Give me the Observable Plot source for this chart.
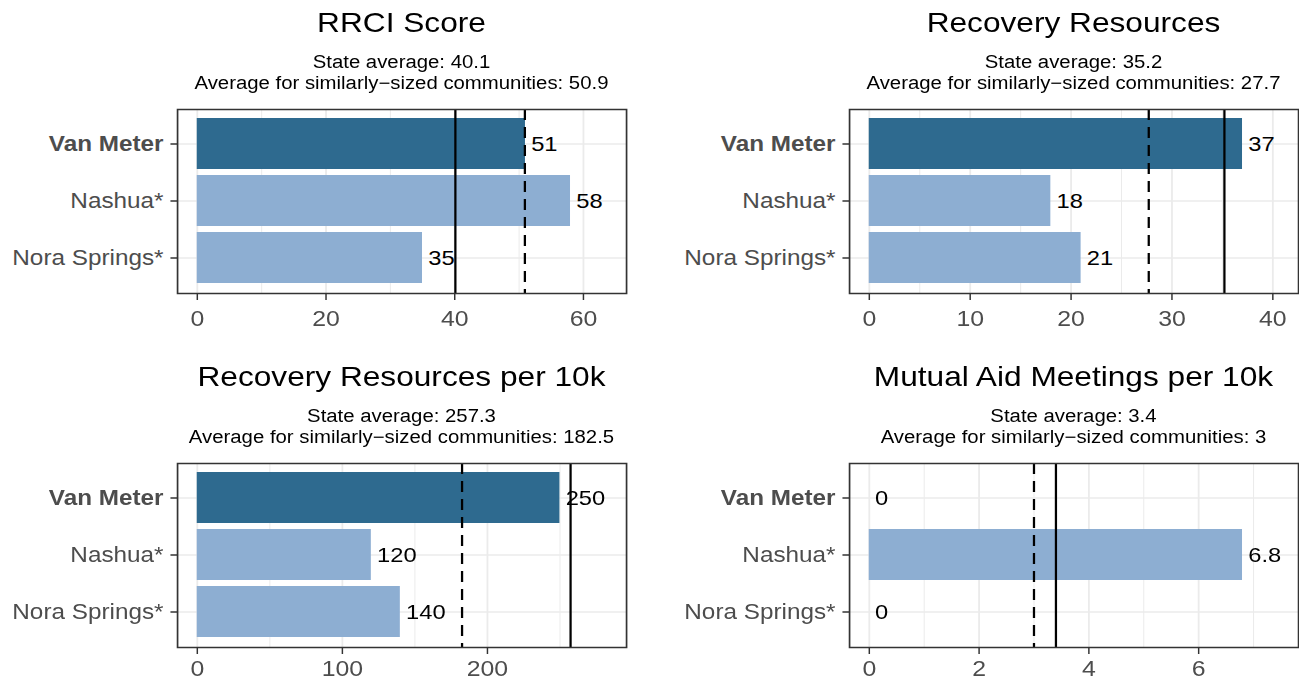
<!DOCTYPE html>
<html>
<head>
<meta charset="utf-8">
<script src="https://cdn.jsdelivr.net/npm/d3@7"></script>
<script src="https://cdn.jsdelivr.net/npm/@observablehq/plot@0.6"></script>
<style>
  html, body { margin: 0; padding: 0; background: #fff; overflow: hidden; }
  #outer { position: relative; width: 1299px; height: 681px; overflow: hidden; background: #fff; }
  #inner { position: absolute; left: 0; top: 0; width: 1150px; height: 681px; transform-origin: 0 0; }
  .ttl, .sub { position: absolute; text-align: center; font-family: "Liberation Sans", Arial, Helvetica, sans-serif; color: #000; white-space: nowrap; }
  .ttl { font-size: 28px; line-height: 28px; }
  .sub { font-size: 18px; line-height: 21px; }
</style>
</head>
<body>
<div id="outer"><div id="inner"></div></div>
<script>
// ---- data ----
const communities = ["Van Meter", "Nashua*", "Nora Springs*"];
const highlight = "Van Meter";
const panelTitles = ["RRCI Score", "Recovery Resources", "Recovery Resources per 10k", "Mutual Aid Meetings per 10k"];
const rrciValues = [51, 58, 35];
const resourcesValues = [37, 18, 21];
const resourcesPer10kValues = [250, 120, 140];
const meetingsPer10kValues = [0, 6.8, 0];
const stateAverages = [40.1, 35.2, 257.3, 3.4];
const similarAverages = [50.9, 27.7, 182.5, 3];
const majorTicks = [[0, 20, 40, 60], [0, 10, 20, 30, 40], [0, 100, 200], [0, 2, 4, 6]];
const minorTicks = [[10, 30, 50], [5, 15, 25, 35], [50, 150, 250], [1, 3, 5, 7]];
const seriesValues = [rrciValues, resourcesValues, resourcesPer10kValues, meetingsPer10kValues];

// ---- style ----
const highlightColor = "#2E6A8F";
const otherColor = "#8DAED2";
const FONT = '"Liberation Sans", Arial, Helvetica, sans-serif';
const S = 1.13; // horizontal stretch of the whole figure

const inner = document.getElementById("inner");
inner.style.transform = `scaleX(${S})`;

const cols = [{left: 0, boxL: 177, boxR: 626}, {left: 575, boxL: 849, boxR: 1298}];
const rows = [0, 354];
const W = 575;

panelTitles.forEach((title, i) => {
  const col = cols[i % 2], r = Math.floor(i / 2), rowTop = rows[r];
  const values = seriesValues[i];
  const state = stateAverages[i], similar = similarAverages[i];
  const mL = col.boxL / S - col.left;
  const mR = col.left + W - col.boxR / S;
  const mB = r === 0 ? 34 : 28;
  const H = 193 + mB;
  const data = communities.map((name, j) => ({
    name, value: values[j], label: String(values[j]),
    color: name === highlight ? highlightColor : otherColor
  }));
  const hi = 1.15 * Math.max(...values, state, similar);
  const lo = -0.046 * hi;

  const svg = Plot.plot({
    width: W, height: H,
    marginLeft: mL, marginRight: mR, marginTop: 9, marginBottom: mB,
    style: {fontFamily: FONT, fontSize: "22px", background: "white", overflow: "visible"},
    x: {domain: [lo, hi], label: null},
    y: {domain: communities, paddingInner: 0.1, paddingOuter: 0.15, label: null},
    color: {type: "identity"},
    marks: [
      Plot.ruleX(minorTicks[i], {stroke: "#EBEBEB", strokeWidth: 0.9}),
      Plot.ruleX(majorTicks[i], {stroke: "#EBEBEB", strokeWidth: 1.6}),
      Plot.ruleY(communities, {y: d => d, stroke: "#EBEBEB", strokeWidth: 1.7}),
      Plot.barX(data, {x: "value", y: "name", fill: "color"}),
      Plot.ruleX(data.filter(d => d.value === 0), {x: "value", y: "name", stroke: "color", strokeWidth: 1.2}),
      Plot.ruleX([state], {stroke: "black", strokeWidth: 2}),
      Plot.ruleX([similar], {stroke: "black", strokeWidth: 2, strokeDasharray: "11,7"}),
      Plot.text(data, {x: "value", y: "name", text: "label", textAnchor: "start", dx: 5, fontSize: 21, fill: "black"}),
      Plot.frame({stroke: "#333333", strokeWidth: 1.5}),
      Plot.axisX({ticks: majorTicks[i], tickSize: 7, tickPadding: r === 0 ? 10 : 6, fontSize: 22, stroke: "#333333", fill: "#4D4D4D", strokeWidth: 1.3, label: null}),
      Plot.axisY({tickSize: 5.8, tickPadding: 6.6, fontSize: 21.5, stroke: "#333333", fill: "#4D4D4D", strokeWidth: 1.5, label: null})
    ]
  });
  d3.select(svg).selectAll("text").filter(function() { return this.textContent === highlight; })
    .attr("font-weight", "bold");
  svg.style.position = "absolute";
  svg.style.left = col.left + "px";
  svg.style.top = (100 + rowTop) + "px";
  svg.style.maxWidth = "none";
  inner.appendChild(svg);

  const bx = col.boxL / S, bw = (col.boxR - col.boxL) / S;
  const t = document.createElement("div");
  t.className = "ttl";
  t.style.left = bx + "px"; t.style.width = bw + "px"; t.style.top = (rowTop + 9.3) + "px";
  t.textContent = title;
  inner.appendChild(t);

  const s = document.createElement("div");
  s.className = "sub";
  s.style.left = bx + "px"; s.style.width = bw + "px"; s.style.top = (rowTop + 52.3) + "px";
  const l1 = document.createElement("div"); l1.textContent = `State average: ${state}`;
  const l2 = document.createElement("div"); l2.textContent = `Average for similarly\u2212sized communities: ${similar}`;
  s.appendChild(l1); s.appendChild(l2);
  inner.appendChild(s);
});
</script>
</body>
</html>
